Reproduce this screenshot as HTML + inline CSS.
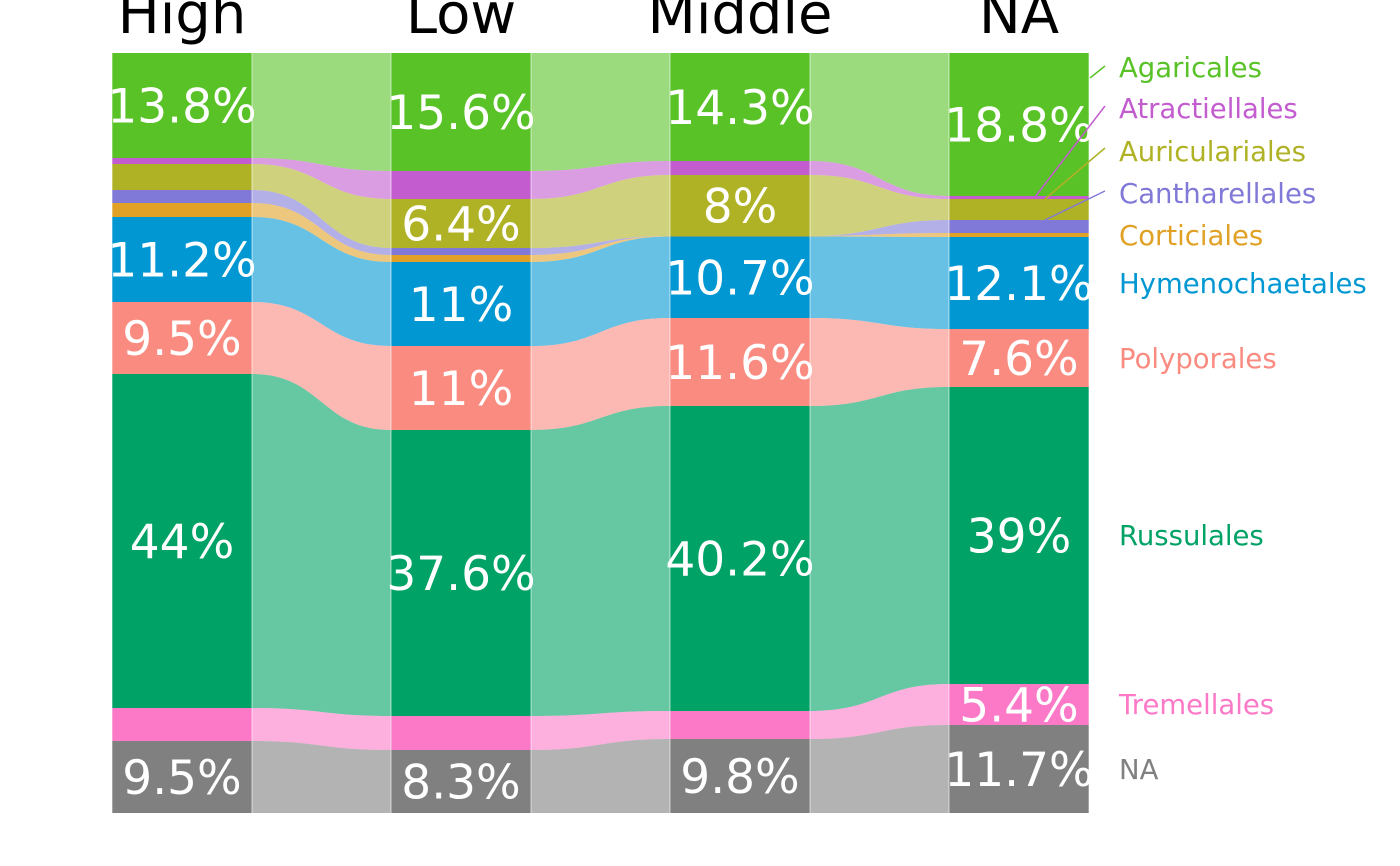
<!DOCTYPE html>
<html><head><meta charset="utf-8"><style>
html,body{margin:0;padding:0;background:#fff;}
svg{display:block;font-family:"DejaVu Sans","Liberation Sans",sans-serif;}
</style></head><body>
<svg id="s" width="1400" height="866" viewBox="0 0 1400 866" xmlns="http://www.w3.org/2000/svg"></svg>
<script>
var cols=[112,391,670,949], W=140;
var colors=["#59c227","#c25ccf","#b0b226","#8179d7","#e0a126","#0097d2","#fa8b80","#00a265","#fb79c7","#808080"];
var b=[
[53,158,164,190,203,217,302,374,708,741,813],
[53,171,199,248,255,262,346,430,716,750,813],
[53,161,175,236,236,236.5,318,406,711,739,813],
[53,196,199,220,233,237,329,387,684,725,813]];
var labels=[
["13.8%",null,null,null,null,"11.2%","9.5%","44%",null,"9.5%"],
["15.6%",null,"6.4%",null,null,"11%","11%","37.6%",null,"8.3%"],
["14.3%",null,"8%",null,null,"10.7%","11.6%","40.2%",null,"9.8%"],
["18.8%",null,null,null,null,"12.1%","7.6%","39%","5.4%","11.7%"]];
var h='';
for(var c=0;c<3;c++){var x0=cols[c]+W,x1=cols[c+1],xm=(x0+x1)/2;
for(var k=0;k<10;k++){var a0=b[c][k],a1=b[c][k+1],c0=b[c+1][k],c1=b[c+1][k+1];
h+='<path d="M'+x0+','+a0+' C'+xm+','+a0+' '+xm+','+c0+' '+x1+','+c0+' L'+x1+','+c1+' C'+xm+','+c1+' '+xm+','+a1+' '+x0+','+a1+' Z" fill="'+colors[k]+'" fill-opacity="0.6"/>';}}
for(var c=0;c<4;c++){for(var k=0;k<10;k++){var y0=b[c][k],y1=b[c][k+1];
h+='<rect x="'+cols[c]+'" y="'+y0+'" width="'+W+'" height="'+(y1-y0)+'" fill="'+colors[k]+'"/>';}
h+='<line x1="'+cols[c]+'" y1="53" x2="'+cols[c]+'" y2="813" stroke="#fff" stroke-opacity="0.6"/>';
h+='<line x1="'+(cols[c]+W)+'" y1="53" x2="'+(cols[c]+W)+'" y2="813" stroke="#fff" stroke-opacity="0.6"/>';}
for(var c=0;c<4;c++)for(var k=0;k<10;k++){var t=labels[c][k];if(!t)continue;
var y=(b[c][k]+b[c][k+1])/2+17;
h+='<text x="'+(cols[c]+W/2)+'" y="'+y+'" text-anchor="middle" font-size="47" fill="#fff">'+t+'</text>';}
var tt=["High","Low","Middle","NA"];
for(var c=0;c<4;c++)h+='<text x="'+(cols[c]+W/2)+'" y="33" text-anchor="middle" font-size="56" fill="#000">'+tt[c]+'</text>';
var ln=["Agaricales","Atractiellales","Auriculariales","Cantharellales","Corticiales","Hymenochaetales","Polyporales","Russulales","Tremellales","NA"];
var ly=[67,108,151,193,235,283,358,535,704,769];
for(var k=0;k<10;k++)h+='<text x="1119" y="'+(ly[k]+10)+'" font-size="27.5" fill="'+colors[k]+'">'+ln[k]+'</text>';
h+='<line x1="1090" y1="78" x2="1105" y2="66" stroke="'+colors[0]+'" stroke-width="1.5"/>';
h+='<line x1="1035" y1="197" x2="1105" y2="106" stroke="'+colors[1]+'" stroke-width="1.5"/>';
h+='<line x1="1045" y1="199" x2="1105" y2="148" stroke="'+colors[2]+'" stroke-width="1.5"/>';
h+='<line x1="1045" y1="220" x2="1105" y2="191" stroke="'+colors[3]+'" stroke-width="1.5"/>';
document.getElementById('s').innerHTML=h;
</script>
</body></html>
